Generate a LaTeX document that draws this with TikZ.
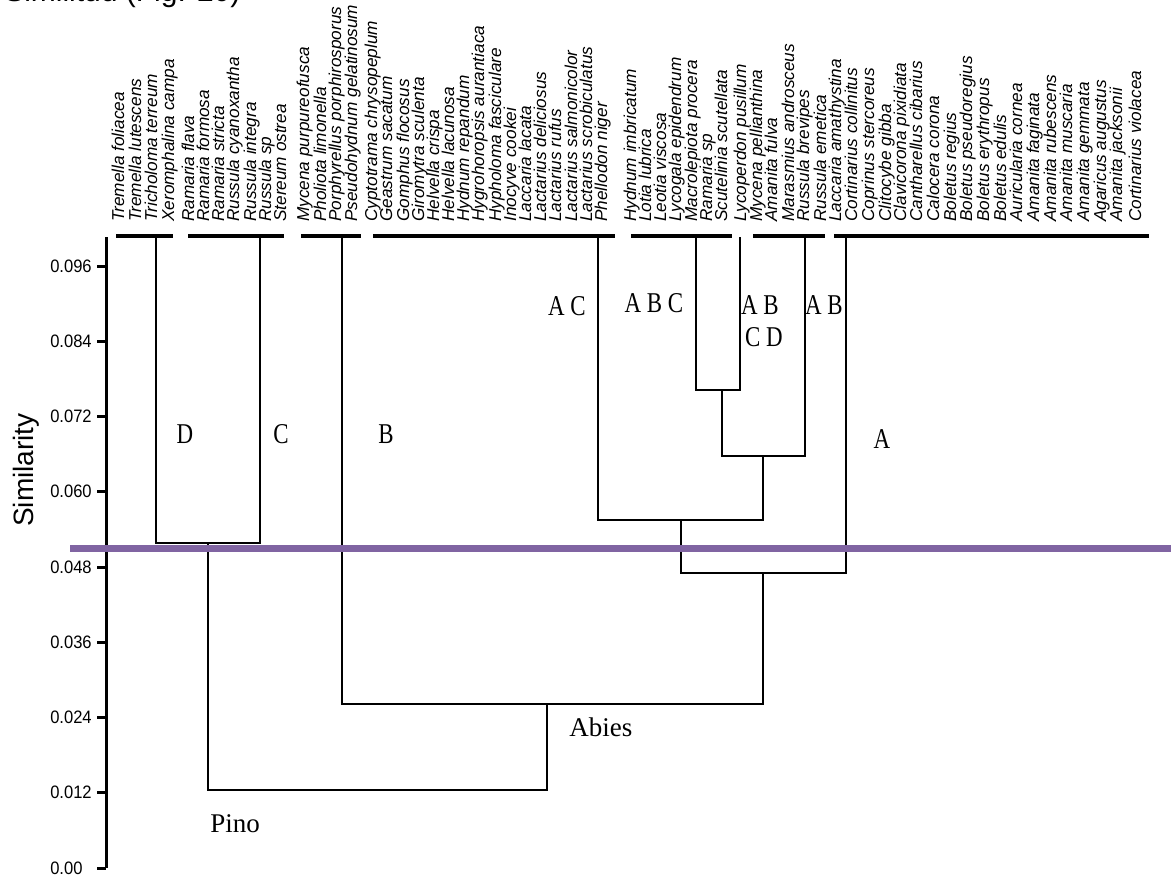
\documentclass[tikz,border=0pt]{standalone}
\usepackage{fontspec}
\setmainfont{Liberation Serif}
\newfontfamily\sansf{Liberation Sans}
\newfontfamily\tickf[FakeStretch=0.92]{Liberation Sans}
\newfontfamily\clf[FakeStretch=0.8]{Liberation Serif}
\definecolor{cutline}{HTML}{8064A2}
\begin{document}
\begin{tikzpicture}[x=0.75pt,y=-0.75pt,
 sp/.style={rotate=90,anchor=mid west,inner sep=0pt,font=\sansf\itshape\fontsize{12.9}{14}\selectfont},
 ticklab/.style={anchor=west,inner sep=0pt,font=\tickf\fontsize{13.5}{15}\selectfont},
 cl/.style={inner sep=0pt,font=\clf\fontsize{21.5}{24}\selectfont},
 host/.style={anchor=base west,inner sep=0pt,font=\fontsize{20.25}{24}\selectfont},
 bar/.style={line width=3pt},
 dend/.style={line width=1.7pt},
 axisline/.style={line width=2.25pt},
 cut/.style={line width=5.25pt,draw=cutline}]
\useasboundingbox (0,0) rectangle (1171,876);

% title (cut by the top edge, as in the reference)
\node[anchor=base west,inner sep=0pt,font=\sansf\fontsize{22.5}{26}\selectfont] (title) at (4,1.5) {Similitud (Fig. 20)};

% axis
\node[rotate=90,anchor=base,inner sep=0pt,font=\sansf\fontsize{21}{24}\selectfont] (ylab) at (33,470) {Similarity};
\coordinate (axtop) at (106,237);
\coordinate (axbot) at (106,868);
\draw[axisline] (axtop) -- (axbot);
\foreach \v/\lab [count=\k from 0] in {868/0.00,792.75/0.012,717.5/0.024,642.25/0.036,567/0.048,491.75/0.060,416.5/0.072,341.25/0.084,266/0.096}{
  \coordinate (tk\k) at (97,\v);
  \coordinate (tkr\k) at (106,\v);
  \draw[axisline] (tk\k) -- (tkr\k);
  \node[ticklab] (tl\k) at (50,\v) {\lab};
}

% species labels
\foreach \x/\t [count=\i] in {
120/Tremella foliacea,137/Tremella lutescens,153/Tricholoma terreum,170/Xeromphalina campa,
190/Ramaria flava,205/Ramaria formosa,220/Ramaria stricta,235/Russula cyanoxantha,252/Russula integra,267/Russula sp,282/Stereum ostrea,
305/Mycena purpureofusca,322/Pholiota limonella,337/Porphyrellus porphirosporus,353/Pseudohydnum gelatinosum,
373/Cyptotrama chrysopeplum,388/Geastrum sacatum,405/Gomphus flocosus,420/Giromytra sculenta,435/Helvella crispa,450/Helvella lacunosa,465/Hydnum repandum,480/Hygrohoropsis aurantiaca,497/Hypholoma fasciculare,512/Inocyve cookei,527/Laccaria lacata,542/Lactarius deliciosus,557/Lactarius rufus,573/Lactarius salmonicolor,588/Lactarius scrobiculatus,603/Phellodon niger,
632/Hydnum imbricatum,647/Lotia lubrica,662/Leotia viscosa,677/Lycogala epidendrum,693/Macrolepiota procera,708/Ramaria sp,723/Scutelinia scutellata,
742/Lycoperdon pusillum,758/Mycena pellianthina,773/Amanita fulva,790/Marasmius androsceus,805/Russula brevipes,822/Russula emetica,
837/Laccaria amathystina,853/Cortinarius collinitus,870/Coprinus stercoreus,887/Clitocybe gibba,902/Clavicorona pixidiata,918/Cantharellus cibarius,935/Calocera corona,952/Boletus regius,968/Boletus pseudoregius,985/Boletus erythropus,1002/Boletus edulis,1018/Auricularia cornea,1035/Amanita faginata,1052/Amanita rubescens,1068/Amanita muscaria,1085/Amanita gemmata,1102/Agaricus augustus,1118/Amanita jacksonii,1137/Cortinarius violacea}{
  \node[sp] (sp\i) at (\x+1,222) {\t};
}

% top bars
\foreach \a/\b [count=\j] in {116/173,188/284,301/361,373/615,631/732,753/825,834/1149}{
  \coordinate (bl\j) at (\a,235.5);
  \coordinate (br\j) at (\b,235.5);
  \draw[bar] (bl\j) -- (br\j);
}

% leaf stems (tops)
\coordinate (tD) at (156,237);
\coordinate (tC) at (260,237);
\coordinate (tB) at (342,237);
\coordinate (tAC) at (598,237);
\coordinate (tABC) at (696,237);
\coordinate (tLy) at (740,237);
\coordinate (tAB) at (805,237);
\coordinate (tA) at (846,237);
% junctions
\coordinate (jDC) at (208,543);
\coordinate (j1) at (722,390);
\coordinate (j2) at (763,456);
\coordinate (j3) at (681,520);
\coordinate (j4) at (763,573);
\coordinate (j5) at (547,704);
\coordinate (j6) at (377,790);

\draw[dend] (tD) |- (jDC) -| (tC);
\draw[dend] (tABC) |- (j1) -| (tLy);
\draw[dend] (j1) |- (j2) -| (tAB);
\draw[dend] (tAC) |- (j3) -| (j2);
\draw[dend] (j3) |- (j4) -| (tA);
\draw[dend] (tB) |- (j5) -| (j4);
\draw[dend] (jDC) |- (j6) -| (j5);

% cluster labels
\node[cl] (lD) at (185,434) {D};
\node[cl] (lC) at (281,434) {C};
\node[cl] (lB) at (386,434) {B};
\node[cl] (lA) at (882,439) {A};
\node[cl] (lAC) at (567,306) {A C};
\node[cl] (lABC) at (654,303) {A B C};
\node[cl] (lAB1) at (760,305) {A B};
\node[cl] (lCD) at (764,337) {C D};
\node[cl] (lAB2) at (824,305) {A B};
\node[host] (abies) at (569,736) {Abies};
\node[host] (pino) at (210,832) {Pino};

% cut line
\coordinate (cutl) at (70,548);
\coordinate (cutr) at (1171,548);
\draw[cut] (cutl) -- (cutr);
\end{tikzpicture}
\end{document}
